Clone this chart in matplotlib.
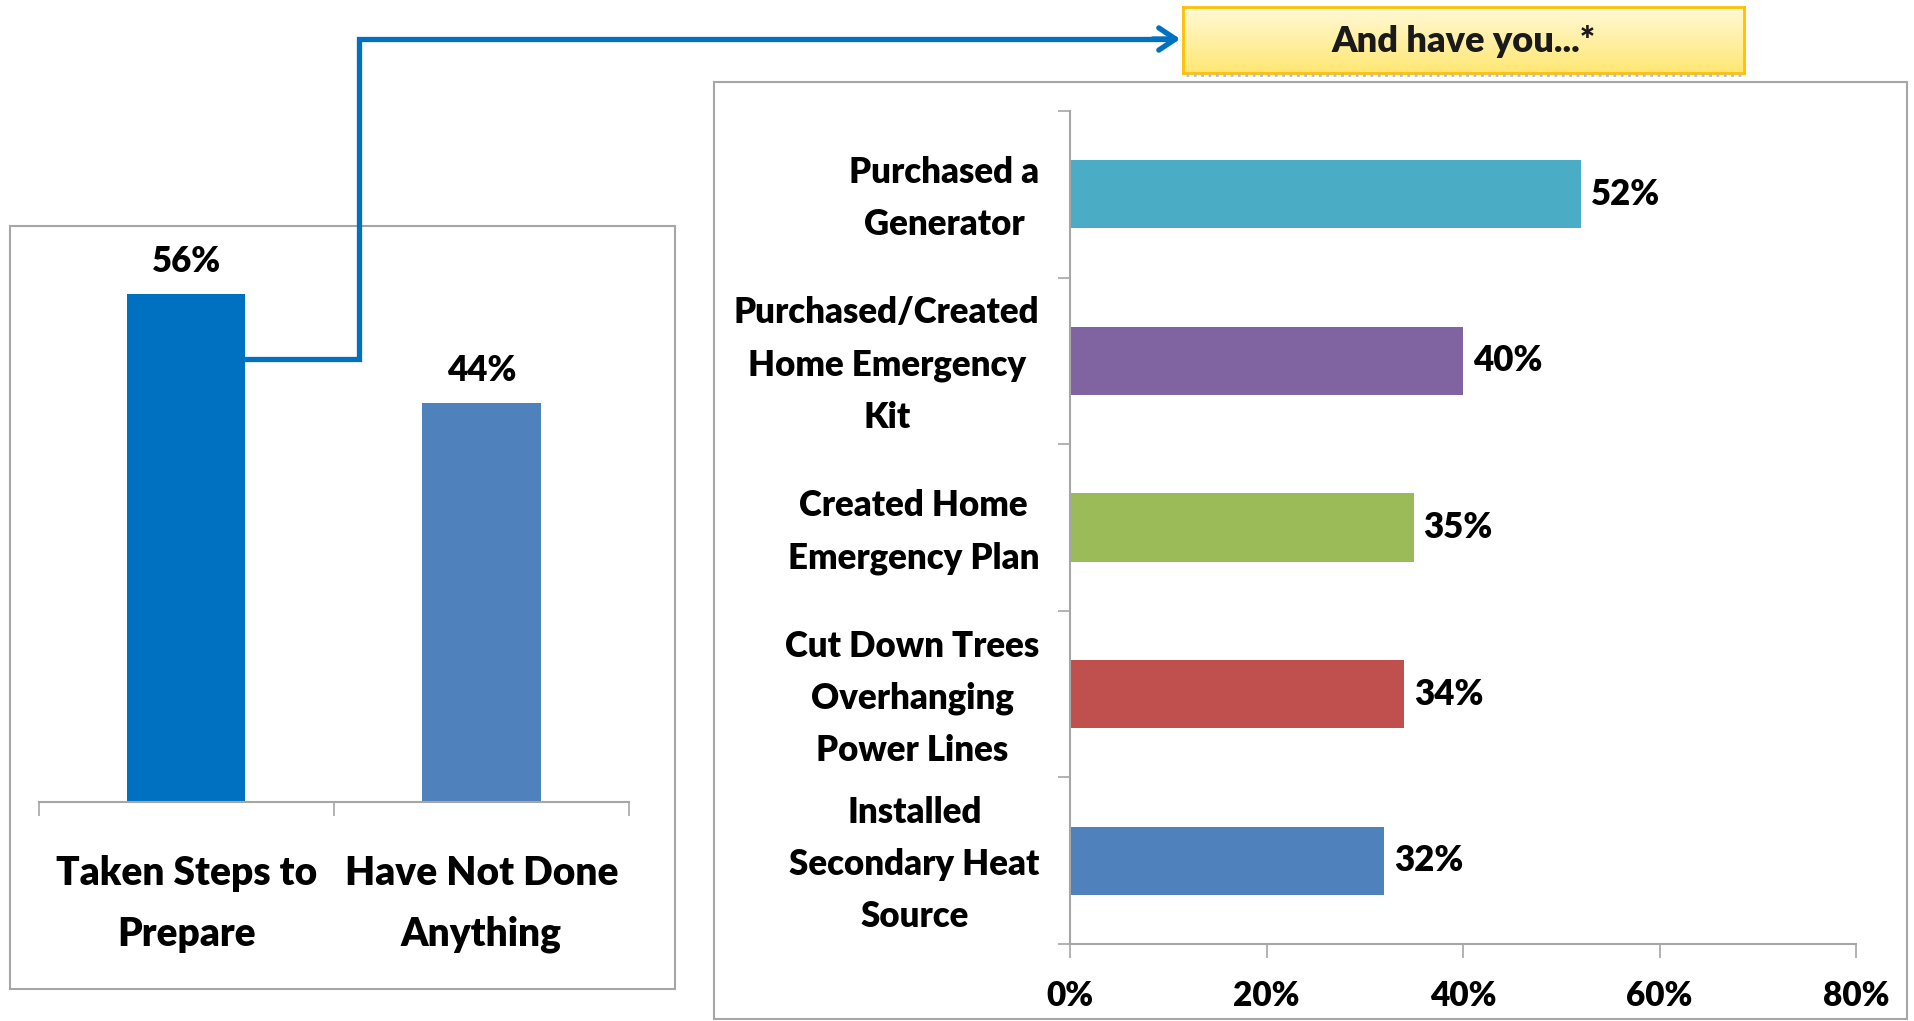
import numpy as np
import matplotlib
matplotlib.use("Agg")
import matplotlib.pyplot as plt
from matplotlib.patches import Rectangle
from matplotlib.lines import Line2D

plt.rcParams['font.family'] = ['Lato', 'DejaVu Sans']
WT = 'heavy'
plt.rcParams['font.weight'] = WT

# data
left_cats = ['Taken Steps to\nPrepare', 'Have Not Done\nAnything']
left_vals = [0.56, 0.44]
left_colors = ['#0070C0', '#4F81BD']

right_cats = ['Purchased a\nGenerator', 'Purchased/Created\nHome Emergency\nKit',
              'Created Home\nEmergency Plan', 'Cut Down Trees\nOverhanging\nPower Lines',
              'Installed\nSecondary Heat\nSource']
right_vals = [0.52, 0.40, 0.35, 0.34, 0.32]
right_colors = ['#4BACC6', '#8064A2', '#9BBB59', '#C0504D', '#4F81BD']
x_ticks = [0, 0.2, 0.4, 0.6, 0.8]
title_text = 'And have you...*'

W, H = 1915, 1021
fig = plt.figure(figsize=(W / 100, H / 100), dpi=100)


def box(x0, y0, x1, y1):
    # pixel box (top-left origin) -> figure fraction rect
    return [x0 / W, 1 - y1 / H, (x1 - x0) / W, (y1 - y0) / H]


GRAY = '#A6A6A6'
FS = 25

# panel frames
for (x0, y0, x1, y1) in [(10, 226, 675, 989), (714, 82, 1907, 1019)]:
    fig.add_artist(Rectangle((x0 / W, 1 - y1 / H), (x1 - x0) / W, (y1 - y0) / H,
                             transform=fig.transFigure, fill=False,
                             edgecolor=GRAY, lw=1.5))

# left chart
ax1 = fig.add_axes(box(39, 230, 629, 802))
xs = np.arange(len(left_vals))
bars = ax1.bar(xs, left_vals, width=0.4, color=left_colors)
ax1.bar_label(bars, labels=['{:.0%}'.format(v) for v in left_vals],
              padding=11, fontsize=FS, fontweight=WT)
ax1.set_xlim(-0.5, 1.5)
ax1.set_ylim(0, 0.63)
ax1.set_xticks(xs)
ax1.set_xticklabels(left_cats, fontsize=FS + 3, fontweight=WT, linespacing=1.8)
ax1.set_xticks([-0.5, 0.5, 1.5], minor=True)
ax1.tick_params(axis='x', which='major', length=0, pad=38)
ax1.tick_params(axis='x', which='minor', length=10, color=GRAY, width=1.2)
ax1.set_yticks([])
for s in ['left', 'right', 'top']:
    ax1.spines[s].set_visible(False)
ax1.spines['bottom'].set_color(GRAY)
ax1.spines['bottom'].set_linewidth(1.5)
ax1.patch.set_alpha(0)

# right chart
ax2 = fig.add_axes(box(1070, 111, 1856, 944))
ys = np.arange(len(right_vals))
bars2 = ax2.barh(ys, right_vals, height=0.41, color=right_colors)
ax2.bar_label(bars2, labels=['{:.0%}'.format(v) for v in right_vals],
              padding=7, fontsize=FS, fontweight=WT)
ax2.set_xlim(0, 0.8)
ax2.set_ylim(len(right_vals) - 0.5, -0.5)
ax2.set_xticks(x_ticks)
ax2.set_xticklabels(['{:.0%}'.format(v) for v in x_ticks], fontsize=FS - 1, fontweight=WT)
ax2.tick_params(axis='x', length=10, color=GRAY, width=1.2, pad=16)
# label anchors nudged up a little so text blocks sit centred on bars
ax2.set_yticks(ys - 0.05)
ax2.set_yticklabels(right_cats, fontsize=FS, fontweight=WT, linespacing=1.7)
for lab in ax2.get_yticklabels():
    lab.set_multialignment('center')
ax2.set_yticks(np.arange(-0.5, len(right_vals)), minor=True)
ax2.tick_params(axis='y', which='major', length=0, pad=22)
ax2.tick_params(axis='y', which='minor', length=9, color=GRAY, width=1.2)
for s in ['right', 'top']:
    ax2.spines[s].set_visible(False)
for s in ['left', 'bottom']:
    ax2.spines[s].set_color(GRAY)
    ax2.spines[s].set_linewidth(1.5)

# title box with yellow gradient
tx = fig.add_axes(box(1183, 7, 1744, 73))
grad = np.linspace(0, 1, 100).reshape(-1, 1)
cmap = matplotlib.colors.LinearSegmentedColormap.from_list('y', ['#FFF9D6', '#FFE773'])
tx.imshow(grad, aspect='auto', cmap=cmap, extent=[0, 1, 0, 1])
tx.set_xticks([])
tx.set_yticks([])
for s in tx.spines.values():
    s.set_color('#FFC000')
    s.set_linewidth(2)
tx.text(0.5, 0.48, title_text, ha='center', va='center', fontsize=FS + 1,
        fontweight=WT, color='#1A1A1A', transform=tx.transAxes)
fig.add_artist(Line2D([1186 / W, 1744 / W], [1 - 75 / H, 1 - 75 / H],
                      transform=fig.transFigure, color='#BBBBBB', lw=2, ls=':'))

# connector arrow
BLUE = '#0070C0'
pts_x = [244, 359, 359, 1168]
pts_y = [359, 359, 39, 39]
fig.add_artist(Line2D([p / W for p in pts_x], [1 - p / H for p in pts_y],
                      transform=fig.transFigure, color=BLUE, lw=3.8,
                      solid_joinstyle='miter'))
fig.add_artist(matplotlib.patches.FancyArrowPatch(
    (1150 / W, 1 - 39 / H), (1183 / W, 1 - 39 / H), transform=fig.transFigure,
    arrowstyle='->,head_length=12,head_width=8', color=BLUE, lw=3.8,
    mutation_scale=1))

fig.savefig('out.png', dpi=100)
